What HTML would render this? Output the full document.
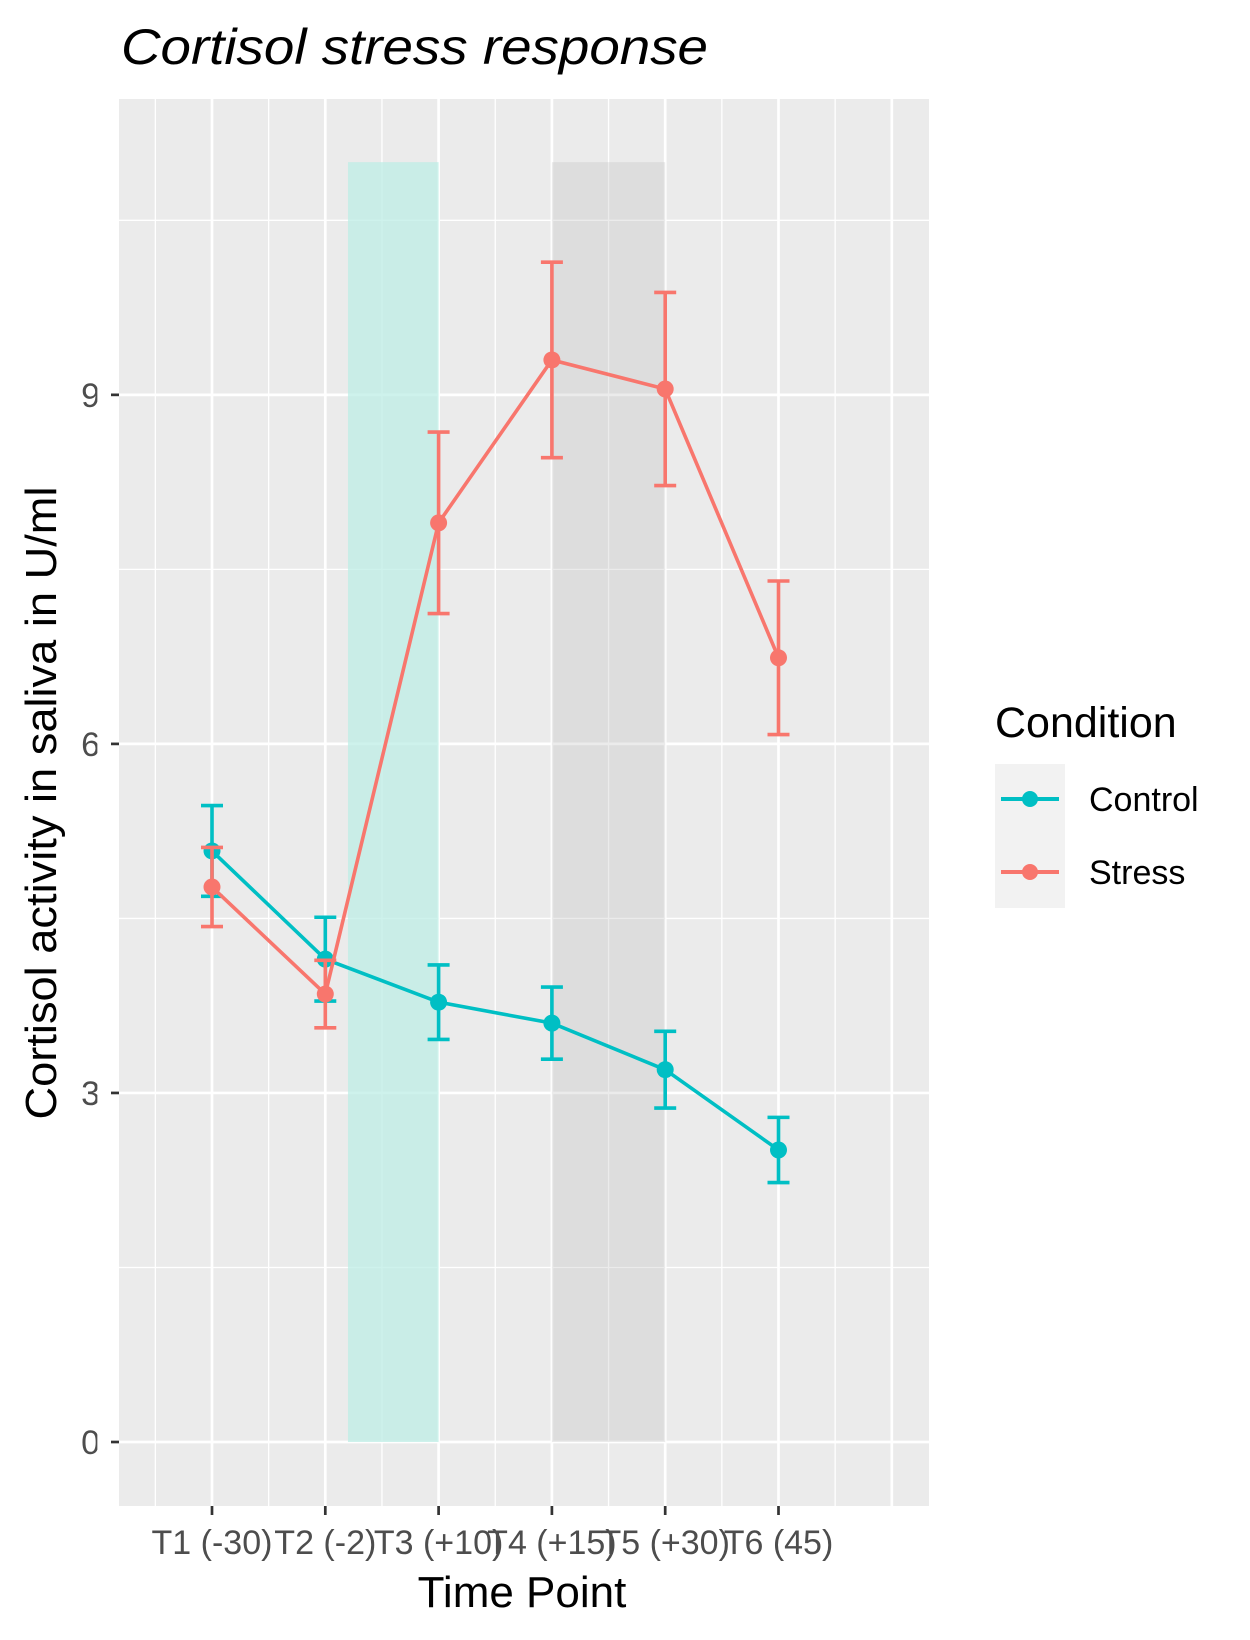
<!DOCTYPE html>
<html><head><meta charset="utf-8"><style>body{margin:0;background:#fff}svg{display:block}text{font-family:"Liberation Sans",sans-serif}</style></head>
<body>
<svg id="chart" width="1250" height="1640" xmlns="http://www.w3.org/2000/svg">
<text x="121" y="64" font-size="50" font-style="italic" textLength="587" lengthAdjust="spacingAndGlyphs">Cortisol stress response</text>
<g id="plot"></g>
<text x="522" y="1607" font-size="44" text-anchor="middle">Time Point</text>
<text transform="translate(56,803) rotate(-90)" font-size="44" text-anchor="middle" textLength="633" lengthAdjust="spacingAndGlyphs">Cortisol activity in saliva in U/ml</text>
<g>
<text x="995" y="737" font-size="43">Condition</text>
<rect x="995" y="764" width="70" height="144" fill="#F2F2F2"/>
<g>
<line x1="1001" y1="799" x2="1059" y2="799" stroke="#00BFC4" stroke-width="4"/>
<circle cx="1030" cy="799" r="8" fill="#00BFC4"/>
<text x="1089" y="811" font-size="34">Control</text></g>
<g>
<line x1="1001" y1="872" x2="1059" y2="872" stroke="#F8766D" stroke-width="4"/>
<circle cx="1030" cy="872" r="8" fill="#F8766D"/>
<text x="1089" y="884" font-size="34">Stress</text></g>
</g>
</svg>
<script>
const categories=["T1 (-30)","T2 (-2)","T3 (+10)","T4 (+15)","T5 (+30)","T6 (45)"];
const controlMean=[5.08,4.15,3.78,3.60,3.20,2.51];
const controlErr=[0.39,0.36,0.32,0.31,0.33,0.28];
const stressMean=[4.77,3.85,7.90,9.30,9.05,6.74];
const stressErr=[0.34,0.29,0.78,0.84,0.83,0.66];
const yTicks=[0,3,6,9];
const yMinor=[1.5,4.5,7.5,10.5];
const shadeTeal=[2.2,3.0,11.0];
const shadeGray=[4.0,5.0,11.0];
const NS="http://www.w3.org/2000/svg";
const L=119,R=929,T=99,B=1506;
const xs=i=>212+(i-1)*113.3;
const ys=v=>1442-v*116.35;
const g=document.getElementById('plot');
function mk(tag,at,p){const e=document.createElementNS(NS,tag);for(const k in at)e.setAttribute(k,at[k]);(p||g).appendChild(e);return e;}
let e=mk('rect',{x:L,y:T,width:R-L,height:B-T,fill:'#EBEBEB'});


yMinor.forEach(v=>{const l=mk('line',{x1:L,x2:R,y1:ys(v),y2:ys(v),stroke:'#fff','stroke-width':1.3});

});
for(let x=0.5;x<=7.5;x+=1){const l=mk('line',{x1:xs(x),x2:xs(x),y1:T,y2:B,stroke:'#fff','stroke-width':1.3});

}
yTicks.forEach(v=>{const l=mk('line',{x1:L,x2:R,y1:ys(v),y2:ys(v),stroke:'#fff','stroke-width':2.7});


const t=mk('line',{x1:111,x2:119,y1:ys(v),y2:ys(v),stroke:'#333','stroke-width':2.7});


const tx=mk('text',{x:100,y:ys(v)+12,'font-size':34,'text-anchor':'end',fill:'#4D4D4D'});tx.textContent=v;

});
for(let x=0;x<=7;x++){const l=mk('line',{x1:xs(x),x2:xs(x),y1:T,y2:B,stroke:'#fff','stroke-width':2.7});

}
[[shadeTeal,'#BDEDE6',0.75,'shade-stress-period'],[shadeGray,'#BEBEBE',0.3,'shade-recovery-period']].forEach(s=>{
const r=mk('rect',{x:xs(s[0][0]),width:xs(s[0][1])-xs(s[0][0]),y:ys(s[0][2]),height:ys(0)-ys(s[0][2]),fill:s[1],'fill-opacity':s[2]});

});
categories.forEach((c,i)=>{const t=mk('line',{x1:xs(i+1),x2:xs(i+1),y1:B,y2:B+9,stroke:'#333','stroke-width':2.7});


const tx=mk('text',{x:xs(i+1),y:1554,'font-size':34,'text-anchor':'middle',fill:'#4D4D4D'});tx.textContent=c;

});
[[controlMean,controlErr,'#00BFC4','control'],[stressMean,stressErr,'#F8766D','stress']].forEach(s=>{
const grp=mk('g',{});


s[0].forEach((m,i)=>{const x=xs(i+1),a=ys(m+s[1][i]),b=ys(m-s[1][i]);
const eb=mk('path',{d:`M${x-11} ${a}H${x+11}M${x} ${a}V${b}M${x-11} ${b}H${x+11}`,stroke:s[2],'stroke-width':3.6,fill:'none'},grp);

});
const ln=mk('polyline',{points:s[0].map((m,i)=>xs(i+1)+','+ys(m)).join(' '),stroke:s[2],'stroke-width':3.6,fill:'none'},grp);


s[0].forEach((m,i)=>{const p=mk('circle',{cx:xs(i+1),cy:ys(m),r:8.5,fill:s[2]},grp);

});
});
</script>
</body></html>
